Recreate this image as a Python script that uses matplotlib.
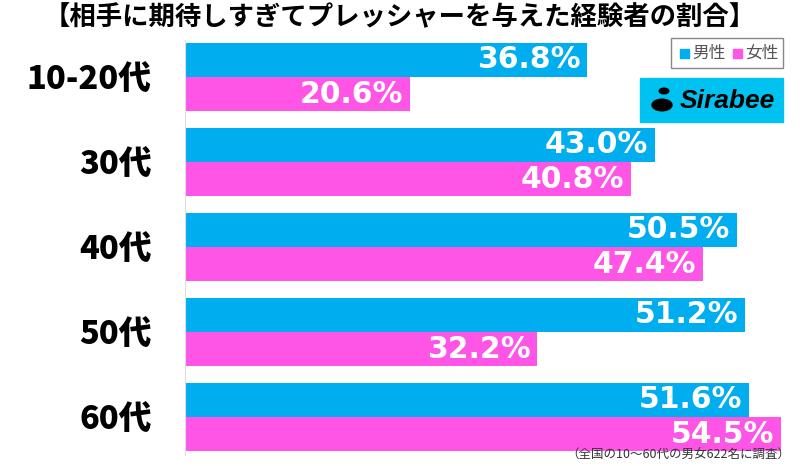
import matplotlib.pyplot as plt
from matplotlib.patches import Rectangle, Circle
import numpy as np

plt.rcParams['font.family'] = ['Noto Sans CJK JP', 'DejaVu Sans']

categories = ['10-20代', '30代', '40代', '50代', '60代']
male = [36.8, 43.0, 50.5, 51.2, 51.6]
female = [20.6, 40.8, 47.4, 32.2, 54.5]
title = '【相手に期待しすぎてプレッシャーを与えた経験者の割合】'
note = '（全国の10～60代の男女622名に調査）'

blue = '#00aeef'
pink = '#ff55e6'

fig = plt.figure(figsize=(8, 4.66), dpi=100)
ax = fig.add_axes([185 / 800, 1 - 459.5 / 466, 612 / 800, 425 / 466])

y = np.arange(len(categories))
h = 0.405
ax.barh(y - h / 2, male, height=h, color=blue)
ax.barh(y + h / 2, female, height=h, color=pink)

for i in range(len(categories)):
    ax.text(male[i] - 0.6, y[i] - h / 2, f'{male[i]:.1f}%', ha='right', va='center',
            color='white', fontsize=21.5, fontweight='bold', family='DejaVu Sans')
    ax.text(female[i] - 0.6, y[i] + h / 2, f'{female[i]:.1f}%', ha='right', va='center',
            color='white', fontsize=21.5, fontweight='bold', family='DejaVu Sans')

ax.set_xlim(0, 56)
ax.set_ylim(len(categories) - 0.5, -0.5)
ax.set_yticks(y)
ax.set_yticklabels(categories, fontsize=23.5, fontweight='black')
ax.tick_params(axis='y', length=0, pad=24)
ax.set_xticks([])
for s in ['top', 'right', 'bottom']:
    ax.spines[s].set_visible(False)
ax.spines['left'].set_color('#dddddd')
ax.spines['left'].set_bounds(-0.43, 4.45)

fig.text(0.5, 0.962, title, ha='center', va='center', fontsize=19, fontweight='bold')
fig.text(0.988, 0.008, note, ha='right', va='bottom', fontsize=9, color='#333333')

# legend box
fig.patches.append(Rectangle((671 / 800, 1 - 68 / 466), 112 / 800, 30 / 466,
                             transform=fig.transFigure, fill=False, edgecolor='#888888', lw=1))
fig.patches.append(Rectangle((680 / 800, 1 - 58 / 466), 9 / 800, 9 / 466,
                             transform=fig.transFigure, color=blue))
fig.text(692 / 800, 1 - 53 / 466, '男性', fontsize=12, color='#555555', va='center')
fig.patches.append(Rectangle((733 / 800, 1 - 58 / 466), 9 / 800, 9 / 466,
                             transform=fig.transFigure, color=pink))
fig.text(745 / 800, 1 - 53 / 466, '女性', fontsize=12, color='#555555', va='center')

# Sirabee logo
fig.patches.append(Rectangle((640 / 800, 1 - 122 / 466), 143 / 800, 44 / 466,
                             transform=fig.transFigure, color='#00c2f0'))
fig.patches.append(Circle((662 / 800, 1 - 105 / 466), 0.0125, transform=fig.transFigure,
                          color='black'))
fig.patches.append(Circle((664 / 800, 1 - 91 / 466), 0.006, transform=fig.transFigure,
                          color='black'))
fig.text(680 / 800, 1 - 101 / 466, 'Sirabee', fontsize=19, color='black', va='center',
         ha='left', fontweight='bold', style='italic', family='Liberation Sans')

fig.savefig('out.png', dpi=100)
